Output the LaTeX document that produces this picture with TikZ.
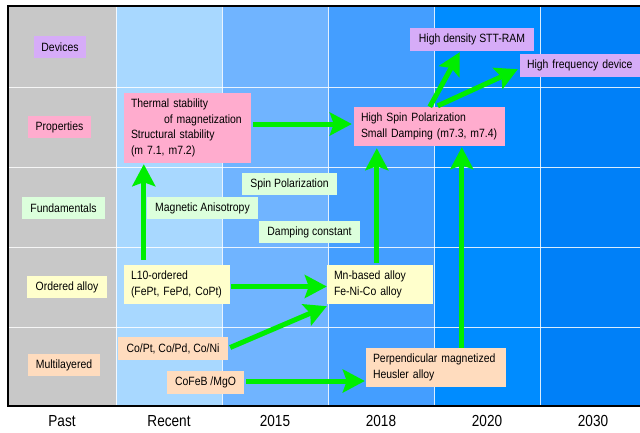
\documentclass[tikz,border=0pt]{standalone}
\usepackage{fontspec}
\setmainfont{Liberation Sans}
\newfontfamily\boxfont[FakeStretch=0.87]{Liberation Sans}
\newfontfamily\axisfont[FakeStretch=0.85]{Liberation Sans}
\usetikzlibrary{arrows.meta,calc}
\definecolor{colgray}{RGB}{200,200,200}
\definecolor{colrecent}{RGB}{168,216,255}
\definecolor{colA}{RGB}{112,180,255}
\definecolor{colB}{RGB}{68,158,255}
\definecolor{colC}{RGB}{0,140,255}
\definecolor{colD}{RGB}{0,128,248}
\definecolor{lav}{RGB}{214,172,248}
\definecolor{pinkc}{RGB}{255,172,206}
\definecolor{lgreen}{RGB}{220,255,220}
\definecolor{lyellow}{RGB}{255,255,204}
\definecolor{peach}{RGB}{255,220,190}
\definecolor{arrgreen}{RGB}{0,238,0}
\begin{document}
\begin{tikzpicture}[x=1pt,y=-1pt,
  box/.style={inner sep=0pt, minimum height=22pt, font=\boxfont\fontsize{12}{15.5}\selectfont},
  mbox/.style={box, inner xsep=7pt, align=left},
  lavbox/.style={box, fill=lav},
  pinkbox/.style={box, fill=pinkc},
  greenbox/.style={box, fill=lgreen},
  yellowbox/.style={box, fill=lyellow},
  peachbox/.style={box, fill=peach},
  grid/.style={draw=white, opacity=0.85, line width=1pt},
  axislabel/.style={font=\axisfont\fontsize{16}{18}\selectfont, inner sep=0pt},
  arr/.style={draw=arrgreen, line width=5pt, -{Stealth[length=22pt,width=23pt,inset=4pt]}}
]
\useasboundingbox (0,0) rectangle (640,432);
\clip (0,0) rectangle (640,432);
\fill[white] (0,0) rectangle (640,432);
% columns
\fill[colgray] (8,6) rectangle (116,406);
\fill[colrecent] (116,6) rectangle (222,406);
\fill[colA] (222,6) rectangle (328,406);
\fill[colB] (328,6) rectangle (434,406);
\fill[colC] (434,6) rectangle (540,406);
\fill[colD] (540,6) rectangle (645,406);
% grid
\foreach \gx in {116,222,328,434,540} \draw[grid] (\gx,6) -- (\gx,406);
\foreach \gy in {87,167,247,327} \draw[grid] (8,\gy) -- (645,\gy);
% frame
\draw[black, line width=2pt] (8,6) rectangle (650,406);
% row labels
\node[lavbox, minimum width=52pt] (devices) at (60,47) {Devices};
\node[pinkbox, minimum width=63pt] (properties) at (59.5,127) {Properties};
\node[greenbox, minimum width=83pt] (fund) at (63.5,208) {Fundamentals};
\node[yellowbox, minimum width=80pt] (ordered) at (67,287) {Ordered alloy};
\node[peachbox, minimum width=72pt] (multi) at (64,365) {Multilayered};
% content boxes
\node[pinkbox, mbox, text width=113pt, minimum height=70pt] (thermal) at (187.5,128)
  {\mbox{Thermal stability}\\\mbox{\hspace*{33pt}of magnetization}\\\mbox{Structural stability}\\\mbox{(m 7.1, m7.2)}};
\node[greenbox, minimum width=95pt] (spin) at (289.5,184) {Spin Polarization};
\node[greenbox, minimum width=111pt] (aniso) at (202.5,208) {Magnetic Anisotropy};
\node[greenbox, minimum width=101pt] (damp) at (309.5,232) {Damping constant};
\node[yellowbox, mbox, text width=92pt, minimum height=39pt] (l10) at (177,284.5)
  {\mbox{L10-ordered}\\\mbox{(FePt, FePd, CoPt)}};
\node[yellowbox, mbox, text width=92pt, minimum height=39pt] (mn) at (380,284.5)
  {\mbox{Mn-based alloy}\\\mbox{Fe-Ni-Co alloy}};
\node[peachbox, minimum width=110pt, minimum height=23pt] (copt) at (173,348.5) {Co/Pt, Co/Pd, Co/Ni};
\node[peachbox, minimum width=77pt, minimum height=23pt] (cofeb) at (205.5,382.5) {CoFeB /MgO};
\node[peachbox, mbox, text width=126pt, minimum height=39pt] (perp) at (436,367.5)
  {\mbox{Perpendicular magnetized}\\\mbox{Heusler alloy}};
\node[pinkbox, mbox, text width=137pt, minimum height=39pt] (hs) at (429.5,126.5)
  {\mbox{High Spin Polarization}\\\mbox{Small Damping (m7.3, m7.4)}};
\node[lavbox, minimum width=124pt, minimum height=23pt] (stt) at (472,39.5) {High density STT-RAM};
\node[lavbox, mbox, text width=116pt, minimum height=23pt] (hf) at (585,65.5) {\mbox{High frequency device}};
% axis labels
\node[axislabel] (lpast) at (62,421) {Past};
\node[axislabel] (lrecent) at (169,421) {Recent};
\node[axislabel] (l2015) at (275,421) {2015};
\node[axislabel] (l2018) at (381,421) {2018};
\node[axislabel] (l2020) at (487,421) {2020};
\node[axislabel] (l2030) at (593,421) {2030};
% arrows
\draw[arr] ($(l10.north west)+(20,-5)$) -- ($(thermal.south west)+(20,1)$);
\draw[arr] ($(thermal.east)+(2,-4)$) -- ($(hs.west)+(-2,-2.5)$);
\draw[arr] ($(l10.east)+(1,2)$) -- ($(mn.west)+(0,2)$);
\draw[arr] ($(copt.east)+(2,-1)$) -- ($(mn.south west)+(0,2)$);
\draw[arr] ($(cofeb.east)+(2,-1.5)$) -- ($(perp.west)+(-1,13.5)$);
\draw[arr] ($(mn.north west)+(50,-2)$) -- ($(hs.south west)+(23,2)$);
\draw[arr] ($(perp.north west)+(96,0)$) -- ($(hs.south west)+(108,1)$);
\draw[arr] ($(hs.north west)+(76,0)$) -- ($(stt.south west)+(50,1)$);
\draw[arr] ($(hs.north west)+(84,-1)$) -- ($(hf.south west)+(-2,-8)$);
\end{tikzpicture}
\end{document}
